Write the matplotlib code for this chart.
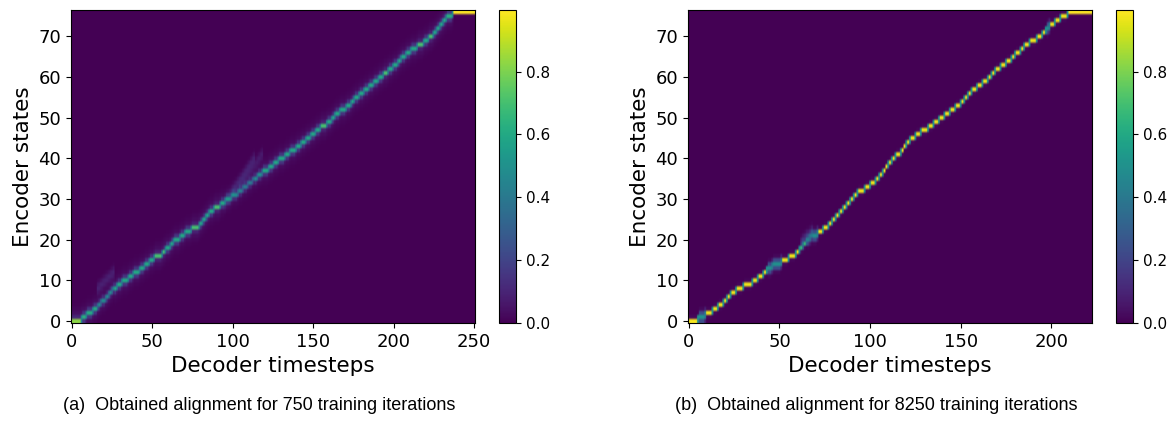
import numpy as np
import matplotlib
matplotlib.use('Agg')
import matplotlib.pyplot as plt

# ===========================
# 데이터
# ===========================
# 각 인코더 상태가 주목되기 시작하는 디코더 스텝 (상태 0..76)
ONSETS_A = [0, 7, 10, 14, 17, 19, 22, 24, 26, 29, 32, 36, 39, 43, 46, 49, 52, 57,
            59, 62, 64, 68, 71, 75, 80, 82, 84, 86, 89, 93, 96, 100, 104, 107, 110,
            113, 116, 119, 123, 126, 129, 133, 136, 140, 143, 146, 149, 152, 155,
            159, 162, 164, 167, 171, 174, 176, 179, 182, 185, 188, 191, 194, 197,
            200, 203, 205, 208, 211, 215, 219, 222, 225, 227, 229, 231, 233, 237]
ONSETS_B = [0, 6, 10, 14, 17, 20, 22, 24, 27, 31, 36, 39, 42, 44, 47, 52, 56, 60,
            62, 64, 66, 68, 72, 75, 78, 80, 82, 84, 86, 88, 90, 92, 94, 98, 101,
            104, 106, 108, 109, 111, 113, 115, 118, 119, 121, 123, 126, 129, 133,
            136, 139, 142, 145, 148, 151, 153, 155, 157, 160, 163, 166, 168, 170,
            173, 176, 179, 181, 184, 186, 189, 193, 196, 198, 200, 203, 206, 210]
N_STEPS_A = 251
N_STEPS_B = 223

# 선명한 / 흐린 상태
SHARP_A = [0, 16, 17, 23, 28, 48, 61, 68, 70, 76]
BLURRY_A = []
SHARP_B = [76]
BLURRY_B = [1, 13, 14, 20, 21, 72]

# 흐릿한 곁가지 (t0, e0, t1, e1, 세기)
GHOSTS_A = [(16, 8, 26, 12, 0.2), (95, 29, 113, 40, 0.22), (104, 33, 118, 41, 0.15)]
GHOSTS_B = [(62, 19, 68, 22, 0.3)]

CAPTIONS = ["(a)  Obtained alignment for 750 training iterations",
            "(b)  Obtained alignment for 8250 training iterations"]


def build(onsets, n_steps, sigma, sigma_sharp, halo, sharp, blurry, ghosts):
    onsets = np.array(onsets)
    n_enc = len(onsets)
    enc = np.arange(n_enc)
    A = np.zeros((n_enc, n_steps))
    for t in range(n_steps):
        k = np.searchsorted(onsets, t, side='right') - 1
        c = float(k)
        if k < n_enc - 1 and t == onsets[k + 1] - 1 and onsets[k + 1] - onsets[k] > 1:
            c += 0.5
        h = halo
        if k == n_enc - 1:
            s, h = 0.3, 0.0
        elif k in sharp:
            s = sigma_sharp
        elif k in blurry:
            s = 0.8
        else:
            s = sigma
        col = np.exp(-(enc - c) ** 2 / (2 * s ** 2))
        col = col + h * np.exp(-(enc - c) ** 2 / (2 * 1.8 ** 2))
        for t0, e0, t1, e1, amp in ghosts:
            if t0 <= t <= t1:
                ec = e0 + (e1 - e0) * (t - t0) / (t1 - t0)
                col = col + amp * np.exp(-(enc - ec) ** 2 / (2 * 1.0 ** 2))
        A[:, t] = col / col.sum()
    return A


mat_a = build(ONSETS_A, N_STEPS_A, 0.55, 0.42, 0.1, SHARP_A, BLURRY_A, GHOSTS_A)
mat_b = build(ONSETS_B, N_STEPS_B, 0.35, 0.32, 0.0, SHARP_B, BLURRY_B, GHOSTS_B)

plt.rcParams['font.family'] = 'DejaVu Sans'

fig = plt.figure(figsize=(11.72, 4.26), dpi=100)
W, H = 1172, 426
ax_pos = [(71, 499), (688, 1116)]

for i, mat in enumerate([mat_a, mat_b]):
    x0, cx = ax_pos[i]
    ax = fig.add_axes([x0 / W, 103 / H, 404 / W, 313 / H])
    cax = fig.add_axes([cx / W, 103 / H, 17 / W, 313 / H])
    im = ax.imshow(mat, aspect='auto', origin='lower', cmap='viridis')
    ax.set_xlabel("Decoder timesteps", fontsize=15.5)
    ax.set_ylabel("Encoder states", fontsize=15.5)
    ax.tick_params(labelsize=13)
    cb = fig.colorbar(im, cax=cax)
    cb.set_ticks([0.0, 0.2, 0.4, 0.6, 0.8])
    cb.ax.tick_params(labelsize=11)
    fig.text((x0 + 188) / W, 0.049, CAPTIONS[i], ha='center', va='center',
             fontsize=13, family='Liberation Sans')

plt.savefig("out.png", dpi=100)
plt.close()
